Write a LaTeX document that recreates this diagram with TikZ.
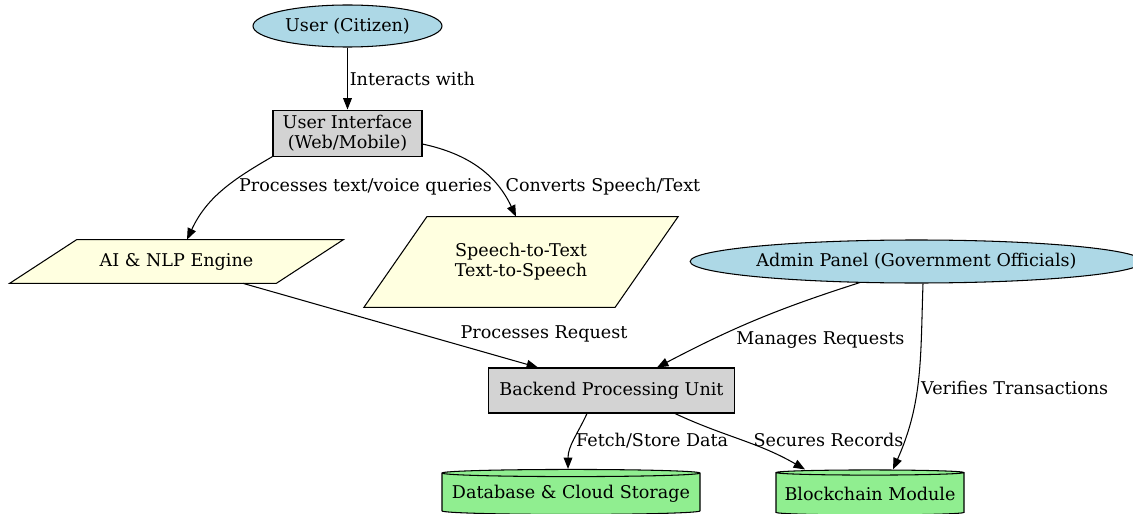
\documentclass[tikz,border=0pt]{standalone}
\usepackage{fontspec}
\setmainfont{DejaVu Serif}
\usetikzlibrary{arrows.meta,positioning,calc,shapes.geometric,backgrounds}
\definecolor{actorblue}{HTML}{ADD8E6}
\definecolor{boxgray}{HTML}{D3D3D3}
\definecolor{parayellow}{HTML}{FFFFE0}
\definecolor{storegreen}{HTML}{90EE90}

\begin{document}
\begin{tikzpicture}[>={Triangle[length=6.5pt,width=5pt]},font=\fontsize{10}{11.5}\selectfont]
  \tikzstyle{actor}=[draw,ellipse,fill=actorblue,inner sep=0pt,line width=0.6pt]
  \tikzstyle{box}=[draw,rectangle,fill=boxgray,inner sep=0pt,line width=0.6pt,align=center]
  \tikzstyle{para}=[rectangle,inner sep=0pt,align=center]
  \tikzstyle{paraframe}=[draw,fill=parayellow,line width=0.6pt]
  \tikzstyle{store}=[draw,cylinder,shape border rotate=90,aspect=0.03,fill=storegreen,inner sep=0pt,line width=0.6pt]
  \tikzstyle{flow}=[->,line width=0.6pt]
  \tikzstyle{lbl}=[inner sep=1pt]
  \useasboundingbox (0,0) rectangle (22.66,-10.28);
  \node[actor,minimum width=3.78cm,minimum height=0.84cm] (user) at (6.95,-0.52) {User (Citizen)};
  \node[box,minimum width=2.98cm,minimum height=0.92cm,below=1.24cm of user] (ui) {User Interface\\(Web/Mobile)};
  \node[para,minimum width=5.32cm,minimum height=0.86cm] (ai) at (3.53,-5.23) {AI \& NLP Engine};
  \node[para,minimum width=5.01cm,minimum height=1.80cm] (speech) at (10.42,-5.24) {Speech-to-Text\\Text-to-Speech};
  \node[actor,minimum width=8.66cm,minimum height=0.86cm] (admin) at (18.33,-5.23) {Admin Panel (Government Officials)};
  \node[box,minimum width=4.92cm,minimum height=0.90cm] (backend) at (12.23,-7.81) {Backend Processing Unit};
  \node[store,minimum width=5.16cm,minimum height=0.90cm] (db) at (11.42,-9.88) {Database \& Cloud Storage};
  \node[store,minimum width=3.76cm,minimum height=0.90cm] (bc) at (17.40,-9.88) {Blockchain Module};
  % slanted frames behind the two engines
  \begin{scope}[on background layer]
    \draw[paraframe] ($(ai.north west)+(0.67,0)$) -- ($(ai.north east)+(0.67,0)$) -- ($(ai.south east)+(-0.67,0)$) -- ($(ai.south west)+(-0.67,0)$) -- cycle;
    \draw[paraframe] ($(speech.north west)+(0.63,0)$) -- ($(speech.north east)+(0.63,0)$) -- ($(speech.south east)+(-0.63,0)$) -- ($(speech.south west)+(-0.63,0)$) -- cycle;
  \end{scope}
  \draw[flow] (user) -- (ui) node[midway,right,lbl] {Interacts with};
  \draw[flow] (ui.south west) to[out=210,in=65] node[pos=0.45,right=6pt,lbl] {Processes text/voice queries} ($(ai.north)+(0.21,0)$);
  \draw[flow] ($(ui.east)+(0,-0.22)$) to[out=-12,in=115] node[pos=0.73,right=3pt,lbl] {Converts Speech/Text} ($(speech.north)+(-0.1,0)$);
  \draw[flow] ($(ai.south)+(1.33,0)$) -- node[pos=0.73,anchor=south west,lbl] {Processes Request} ($(backend.north)+(-1.47,0)$);
  \draw[flow] ($(admin.south)+(-1.13,0.02)$) to[bend right=5] node[pos=0.62,anchor=north west,lbl] {Manages Requests} ($(backend.north)+(0.91,0)$);
  \draw[flow] ($(admin.south)+(0.13,0)$) to[out=-92,in=66] node[pos=0.55,right=1pt,lbl] {Verifies Transactions} ($(bc.north)+(0.46,0)$);
  \draw[flow] ($(backend.south)+(-0.49,0)$) to[out=-115,in=90] node[pos=0.5,right=0pt,lbl] {Fetch/Store Data} ($(db.north)+(-0.06,0)$);
  \draw[flow] ($(backend.south)+(1.27,0)$) to[out=-25,in=150] node[pos=0.5,right=6pt,lbl] {Secures Records} ($(bc.north)+(-1.3,0)$);
\end{tikzpicture}
\end{document}
